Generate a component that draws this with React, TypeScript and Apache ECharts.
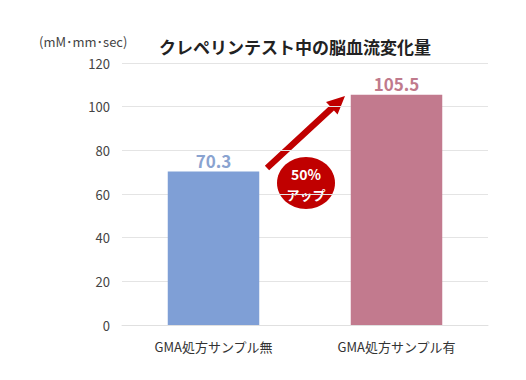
import React, { useEffect, useRef } from "react";
import * as echarts from "echarts";

const categories = ["GMA処方サンプル無", "GMA処方サンプル有"];
const values = [70.3, 105.5];
const barColors = ["#7f9fd6", "#c27a8e"];
const labelColors = ["#8aa3d0", "#c07a8c"];
const yTicks = { min: 0, max: 120, interval: 20 };

const FONT = "'Noto Sans CJK JP', 'Noto Sans', sans-serif";

function arrowPoints(tail: number[], tip: number[], shaftHalf: number, headHalf: number, headLen: number) {
  const dx = tip[0] - tail[0];
  const dy = tip[1] - tail[1];
  const len = Math.hypot(dx, dy);
  const ux = dx / len, uy = dy / len;
  const nx = -uy, ny = ux;
  const bx = tip[0] - headLen * ux, by = tip[1] - headLen * uy;
  return [
    [tail[0] + shaftHalf * nx, tail[1] + shaftHalf * ny],
    [bx + shaftHalf * nx, by + shaftHalf * ny],
    [bx + headHalf * nx, by + headHalf * ny],
    [tip[0], tip[1]],
    [bx - headHalf * nx, by - headHalf * ny],
    [bx - shaftHalf * nx, by - shaftHalf * ny],
    [tail[0] - shaftHalf * nx, tail[1] - shaftHalf * ny],
  ];
}

export default function App() {
  const ref = useRef<HTMLDivElement>(null);
  useEffect(() => {
    if (!ref.current) return;
    const chart = echarts.init(ref.current, undefined, { renderer: "svg" });
    chart.setOption({
      animation: false,
      backgroundColor: "#ffffff",
      grid: { left: 122, right: 38, top: 63, bottom: 55 },
      title: {
        text: "クレペリンテスト中の脳血流変化量",
        left: 290,
        textAlign: "center",
        top: 33,
        textStyle: { fontFamily: FONT, fontSize: 17, fontWeight: "bold", color: "#222222" },
      },
      xAxis: {
        type: "category",
        data: categories,
        axisLine: { show: true, lineStyle: { color: "#e0e0e0" } },
        axisTick: { show: false },
        axisLabel: { fontFamily: FONT, fontSize: 13, color: "#333333", margin: 15 },
      },
      yAxis: {
        type: "value",
        min: yTicks.min,
        max: yTicks.max,
        interval: yTicks.interval,
        axisLine: { show: false },
        axisTick: { show: false },
        splitLine: { lineStyle: { color: "#e4e4e4" } },
        axisLabel: { fontFamily: FONT, fontSize: 13, color: "#444444", margin: 12 },
      },
      series: [
        {
          type: "bar",
          barWidth: "50%",
          data: values.map((v, i) => ({
            value: v,
            itemStyle: { color: barColors[i] },
            label: {
              show: true,
              position: "top",
              distance: 3,
              formatter: (p: any) => p.value.toFixed(1),
              fontFamily: FONT,
              fontSize: 17,
              fontWeight: "bold",
              color: labelColors[i],
            },
          })),
        },
      ],
      graphic: [
        {
          type: "text",
          left: 39,
          top: 35,
          style: { text: "(mM･mm･sec)", fontFamily: FONT, fontSize: 13, fill: "#444444" },
        },
        {
          type: "polygon",
          shape: { points: arrowPoints([267, 168], [345, 96], 3.2, 8.5, 18) },
          style: { fill: "#c00000" },
        },
        {
          type: "ellipse",
          shape: { cx: 306, cy: 183, rx: 29, ry: 26 },
          style: { fill: "#c00000" },
        },
        {
          type: "text",
          x: 306,
          y: 174,
          style: {
            text: "50%",
            align: "center",
            verticalAlign: "middle",
            fontFamily: FONT,
            fontSize: 14,
            fontWeight: "bold",
            fill: "#ffffff",
          },
        },
        {
          type: "text",
          x: 306,
          y: 194,
          style: {
            text: "アップ",
            align: "center",
            verticalAlign: "middle",
            fontFamily: FONT,
            fontSize: 13,
            fontWeight: "bold",
            fill: "#ffffff",
          },
        },
      ],
    });
    return () => chart.dispose();
  }, []);
  return <div ref={ref} style={{ width: 526, height: 380, position: "fixed", left: 0, top: 0 }} />;
}
